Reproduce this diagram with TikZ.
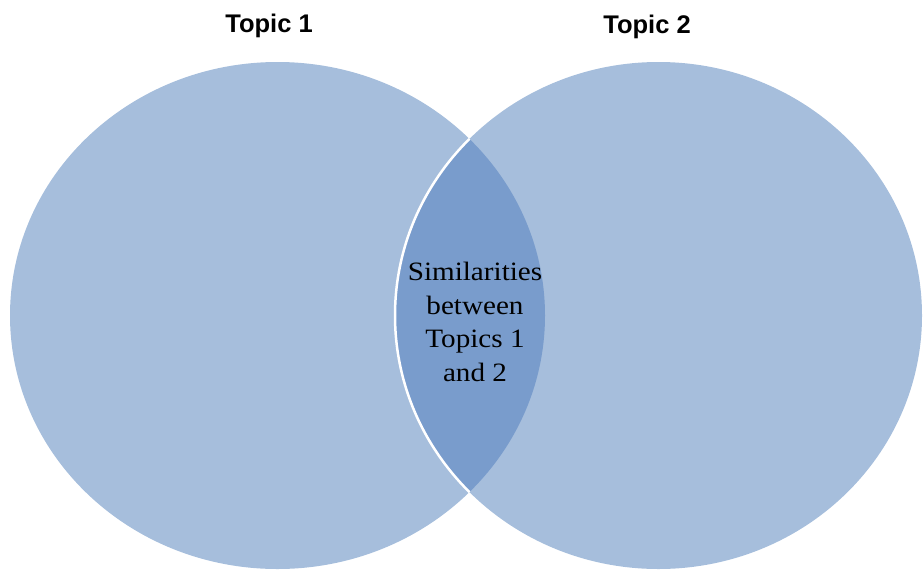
\documentclass[tikz,border=0pt]{standalone}
\usepackage{fontspec}
\setmainfont{Liberation Serif}
\newfontfamily\arialfont{Liberation Sans}
\definecolor{vennlight}{RGB}{166,190,220}
\definecolor{venndark}{RGB}{121,156,204}
\tikzset{
  vennset/.style={fill=vennlight, draw=none},
  titlelabel/.style={font=\arialfont\bfseries\fontsize{25.5}{29}\selectfont, inner sep=0pt},
  lenslabel/.style={font=\fontsize{26.5}{33.7}\selectfont, align=center, inner sep=0pt}
}
\begin{document}
\begin{tikzpicture}[x=1pt,y=-1pt]
\useasboundingbox (0,0) rectangle (924,571);
\coordinate (c1) at (277.5,315.5);
\coordinate (c2) at (658.5,315.5);
% sets
\fill[vennset] (c1) ellipse [x radius=267.5, y radius=253.5];
\fill[vennset] (c2) ellipse [x radius=263.5, y radius=253.5];
\begin{scope}
  \clip (c1) ellipse [x radius=267.5, y radius=253.5];
  \fill[venndark] (c2) ellipse [x radius=263.5, y radius=253.5];
  \draw[white, line width=2.5pt] (c2) ellipse [x radius=263.5, y radius=253.5];
\end{scope}
% labels
\node[titlelabel] (t1) at (269,25.5) {Topic 1};
\node[titlelabel] (t2) at (647,27) {Topic 2};
\node[lenslabel, xscale=1.1, transform shape] (sim) at (475,322) {Similarities\\between\\Topics 1\\and 2};
\end{tikzpicture}
\end{document}
